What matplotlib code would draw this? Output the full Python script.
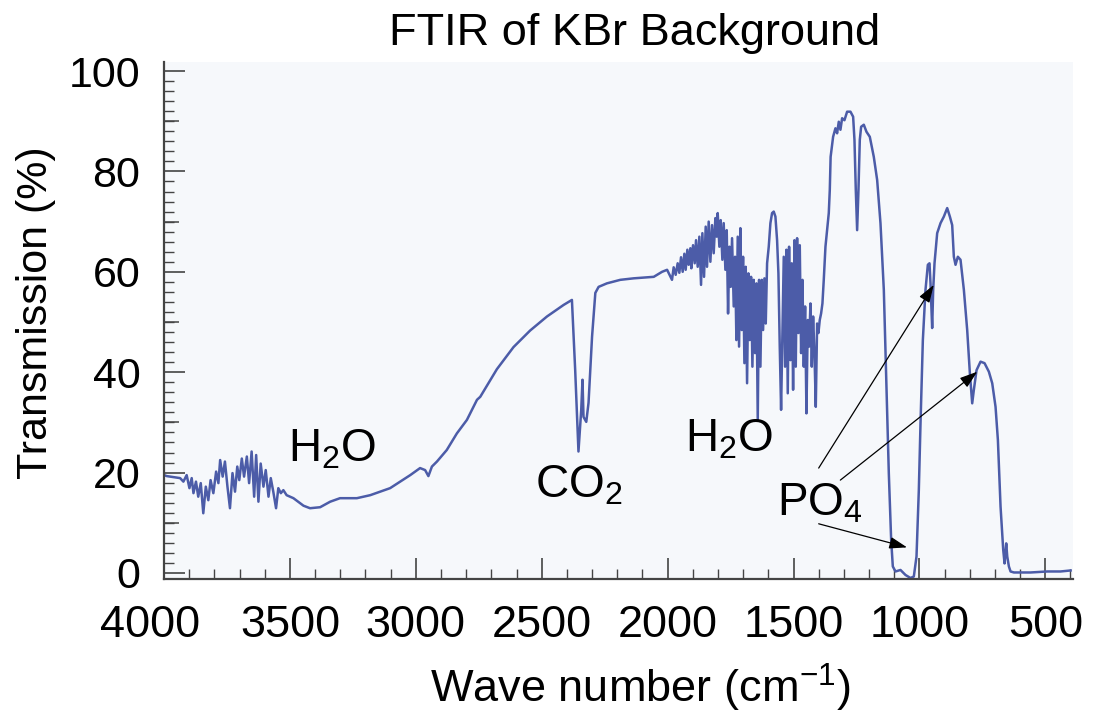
import matplotlib
matplotlib.use("Agg")
import matplotlib.pyplot as plt
import numpy as np
from matplotlib.ticker import MultipleLocator, FixedLocator, NullFormatter, FuncFormatter

plt.rcParams['font.family'] = ['Liberation Sans', 'DejaVu Sans']
plt.rcParams['mathtext.fontset'] = 'custom'
plt.rcParams['mathtext.rm'] = 'Liberation Sans'
plt.rcParams['mathtext.it'] = 'Liberation Sans:italic'
plt.rcParams['mathtext.bf'] = 'Liberation Sans:bold'

# spectrum, split by region (wavenumber in cm-1, transmission in %)
# O-H stretch region with water vapour lines
wn_oh = [4000, 3989, 3936, 3923, 3910, 3899, 3890, 3883, 3873, 3864, 3854, 3844, 3834,
         3824, 3815, 3804, 3793, 3784, 3777, 3767, 3758, 3748, 3738, 3728, 3718, 3709,
         3701, 3691, 3682, 3671, 3662, 3652, 3642, 3634, 3625, 3616, 3605, 3596, 3585,
         3576, 3566, 3555, 3546, 3536, 3526, 3513, 3486, 3446, 3420, 3380, 3340, 3301,
         3234, 3181, 3102, 3022, 2983, 2963, 2950, 2936, 2916, 2877, 2837, 2797, 2757]
t_oh = [19.5, 19.3, 18.9, 18.2, 19.5, 16.9, 18.9, 15.9, 18.2, 15.2, 17.9, 11.9, 17.2,
        14.5, 18.5, 15.9, 20.2, 17.9, 22.5, 19.2, 22.2, 17.2, 12.9, 19.9, 16.2, 21.2,
        18.5, 22.8, 19.2, 23.2, 17.9, 24.2, 15.2, 23.5, 14.2, 21.8, 17.2, 20.5, 15.2,
        18.9, 16.2, 12.9, 16.9, 15.9, 16.5, 15.5, 14.9, 13.4, 12.9, 13.1, 14.2, 14.9,
        14.9, 15.5, 16.9, 19.5, 20.9, 20.5, 19.3, 21.2, 22.2, 24.5, 27.8, 30.5, 34.5]

# rise and CO2 doublet
wn_co2 = [2744, 2678, 2612, 2546, 2479, 2413, 2380, 2367, 2354, 2343, 2338, 2334, 2323,
          2314, 2300, 2287, 2274, 2241, 2188, 2135, 2055, 2022, 2002]
t_co2 = [35.1, 40.6, 45.0, 48.3, 51.1, 53.4, 54.4, 40.4, 24.2, 32.5, 38.5, 31.1, 30.1,
         33.9, 47.1, 55.8, 57.0, 57.7, 58.4, 58.7, 59.0, 60.0, 60.4]

# H-O-H bending region with water vapour lines
wn_hoh = [1982.5, 1975.9, 1967.9, 1960.0, 1953.4, 1946.7, 1940.1, 1933.5, 1928.2, 1921.6,
          1916.3, 1909.6, 1905.7, 1899.0, 1892.4, 1887.1, 1880.5, 1873.9, 1867.2, 1861.9,
          1855.3, 1848.7, 1843.4, 1836.8, 1830.1, 1823.5, 1816.9, 1810.3, 1805.0, 1801.0,
          1794.4, 1789.1, 1782.5, 1777.2, 1770.5, 1765.2, 1759.9, 1754.6, 1749.3, 1744.0,
          1737.4, 1732.1, 1726.8, 1721.5, 1716.2, 1710.9, 1705.6, 1700.3, 1695.0, 1689.7,
          1684.4, 1679.1, 1673.8, 1668.5, 1663.2, 1657.9, 1652.6, 1647.3, 1642.0, 1636.7,
          1631.4, 1626.1, 1620.8, 1615.5, 1610.2, 1604.9, 1598.3, 1591.7, 1585.1, 1578.5,
          1571.8, 1565.2, 1559.9, 1554.6, 1549.3, 1544.0, 1538.7, 1533.4, 1528.1, 1522.8,
          1517.5, 1512.2, 1506.9, 1501.6, 1496.3, 1491.0, 1485.7, 1480.4, 1475.1, 1469.8,
          1464.5, 1459.2, 1453.9, 1448.6, 1443.3, 1438.0, 1432.7, 1427.4, 1422.1, 1416.8,
          1411.5, 1406.2, 1401.0, 1395.7, 1390.4, 1385.1, 1379.8, 1373.1, 1366.5, 1359.9]
t_hoh = [58.4, 60.9, 59.4, 61.7, 59.8, 62.9, 60.0, 63.6, 60.4, 64.4,
         61.4, 64.7, 60.7, 65.3, 61.7, 66.3, 61.0, 67.0, 57.4, 67.7,
         59.0, 69.0, 61.0, 70.0, 62.0, 69.3, 63.7, 70.7, 67.0, 71.7,
         65.0, 70.3, 62.4, 69.7, 60.4, 68.3, 51.7, 65.0, 57.0, 66.7,
         53.1, 63.0, 46.4, 67.0, 45.1, 68.7, 48.4, 63.0, 41.8, 61.0,
         37.8, 59.7, 46.4, 59.0, 41.1, 58.4, 43.8, 57.7, 30.5, 58.4,
         41.1, 58.4, 48.4, 58.7, 49.7, 61.7, 65.0, 69.7, 71.7, 72.0,
         71.0, 66.3, 59.7, 45.1, 32.5, 48.4, 63.0, 41.1, 64.4, 35.8,
         65.0, 42.4, 61.7, 36.5, 66.3, 41.1, 66.7, 47.8, 65.3, 43.8,
         58.4, 41.1, 53.1, 31.8, 50.4, 45.1, 53.7, 41.1, 51.1, 43.8,
         33.1, 49.7, 47.8, 50.4, 51.7, 53.7, 58.4, 65.0, 68.3, 71.7]

# KBr / phosphate region
wn_po4 = [1355.9, 1352.6, 1342.7, 1333.4, 1326.8, 1320.2, 1313.6, 1306.9, 1297.7, 1287.1,
          1273.8, 1263.2, 1257.9, 1252.6, 1247.3, 1242.0, 1236.7, 1231.4, 1220.8, 1210.2,
          1197.0, 1181.1, 1167.8, 1154.6, 1141.3, 1130.7, 1121.5, 1112.2, 1105.6, 1095.0,
          1075.1, 1055.2, 1035.4, 1022.1, 1011.5, 1002.3, 995.6, 986.3, 975.8, 966.5,
          959.9, 955.9, 949.3, 945.3, 940.0, 929.4, 916.1, 902.9, 889.6, 879.0,
          869.8, 863.2, 856.5, 847.3, 836.7, 823.4, 810.2, 799.6, 790.3, 783.7,
          773.1, 757.2, 741.3, 724.1, 710.8, 697.6, 688.3, 677.7, 667.1, 661.8,
          655.2, 651.2, 644.6, 638.0, 624.7, 558.5, 492.2, 439.3, 399.5]
t_po4 = [76.3, 82.9, 86.9, 88.6, 87.6, 89.9, 88.3, 90.6, 90.2, 91.9,
         91.9, 90.9, 86.3, 76.3, 68.3, 76.3, 86.3, 88.9, 89.3, 87.9,
         86.9, 82.9, 78.3, 69.7, 56.4, 36.5, 19.9, 6.6, 1.3, 0.3,
         0.6, -0.4, -1.0, -0.7, 3.3, 16.5, 29.8, 46.4, 56.4, 61.4,
         61.7, 57.7, 48.8, 56.4, 61.7, 67.7, 69.7, 71.0, 72.7, 71.0,
         69.3, 63.0, 61.4, 63.0, 62.4, 56.4, 48.4, 39.8, 33.8, 36.5,
         40.4, 42.1, 41.8, 40.1, 37.8, 33.1, 26.5, 13.2, 4.6, 1.9,
         5.9, 3.3, 1.3, 0.3, 0.1, 0.1, 0.3, 0.3, 0.5]

# band labels: text, left x, baseline y
labels = ['H$_2$O', 'CO$_2$', 'H$_2$O', 'PO$_4$']
label_x = [3506, 2526, 1930, 1565]
label_y = [22.2, 15.1, 24.3, 11.5]

# PO4 arrows: (start wn, start T) -> (tip wn, tip T)
arrow_from = [(1400, 20.9), (1314, 18.5), (1400, 9.8)]
arrow_to = [(943, 57.4), (770, 40.1), (1049, 5.1)]

x_left = 4000

wn = np.concatenate([wn_oh, wn_co2, wn_hoh, wn_po4])
trans = np.concatenate([t_oh, t_co2, t_hoh, t_po4])

fig = plt.figure(figsize=(10.98, 7.13), dpi=100)
ax = fig.add_axes([164 / 1098, 1 - 579 / 713, 909 / 1098, 517 / 713])
ax.set_facecolor('#f6f8fb')

ax.plot(wn, trans, color='#4c5ca8', lw=1.8)

ax.set_xlim(x_left, 390)
ax.set_ylim(-1.2, 101.8)

for s in ['top', 'right']:
    ax.spines[s].set_visible(False)
for s in ['left', 'bottom']:
    ax.spines[s].set_color('#444444')
    ax.spines[s].set_linewidth(1.6)

ax.xaxis.set_major_locator(MultipleLocator(500))
ax.xaxis.set_minor_locator(MultipleLocator(100))
# the 4000 label is drawn separately, a little left of its tick like the original
ax.xaxis.set_major_formatter(FuncFormatter(lambda v, p: '' if v >= x_left else f'{v:.0f}'))
ax.yaxis.set_major_locator(MultipleLocator(20))
ax.yaxis.set_minor_locator(MultipleLocator(2))
ax.tick_params(which='major', direction='in', length=15, width=1.2, color='#444444')
ax.tick_params(which='minor', direction='in', length=7, width=1.0, color='#444444')
ax.tick_params(axis='x', which='major', pad=19, labelsize=32.5)
ax.tick_params(axis='y', which='major', pad=17, labelsize=31)

ax.annotate(f'{x_left}', xy=(x_left, 0), xycoords=('data', 'axes fraction'),
            xytext=(-10, -19), textcoords='offset points',
            ha='center', va='top', fontsize=32.5)

# medium ticks every 10 on the y axis
ax_mid = ax.twinx()
ax_mid.set_ylim(ax.get_ylim())
ax_mid.yaxis.set_ticks_position('left')
ax_mid.yaxis.set_major_locator(FixedLocator([10, 30, 50, 70, 90]))
ax_mid.yaxis.set_major_formatter(NullFormatter())
ax_mid.tick_params(direction='in', length=11, width=1.1, color='#444444')
for s in ax_mid.spines.values():
    s.set_visible(False)

ax.set_title('FTIR of KBr Background', fontsize=32.5, x=0.518, y=1.033, va='baseline', pad=0)
ax.set_xlabel('Wave number (cm$^{-1}$)', fontsize=32.5, va='baseline')
ax.xaxis.set_label_coords(0.524, -0.240)
ax.set_ylabel('Transmission (%)', fontsize=31, va='center', ha='center')
ax.yaxis.set_label_coords(-0.141, 0.516)

for txt, x, y in zip(labels, label_x, label_y):
    ax.text(x, y, txt, fontsize=33, ha='left', va='baseline')

for (x0, y0), (x1, y1) in zip(arrow_from, arrow_to):
    ax.annotate('', xy=(x1, y1), xytext=(x0, y0),
                arrowprops=dict(arrowstyle='-|>,head_length=0.6,head_width=0.2',
                                mutation_scale=18, color='black', lw=0.9,
                                shrinkA=0, shrinkB=0))

fig.savefig('out.png', dpi=100)
